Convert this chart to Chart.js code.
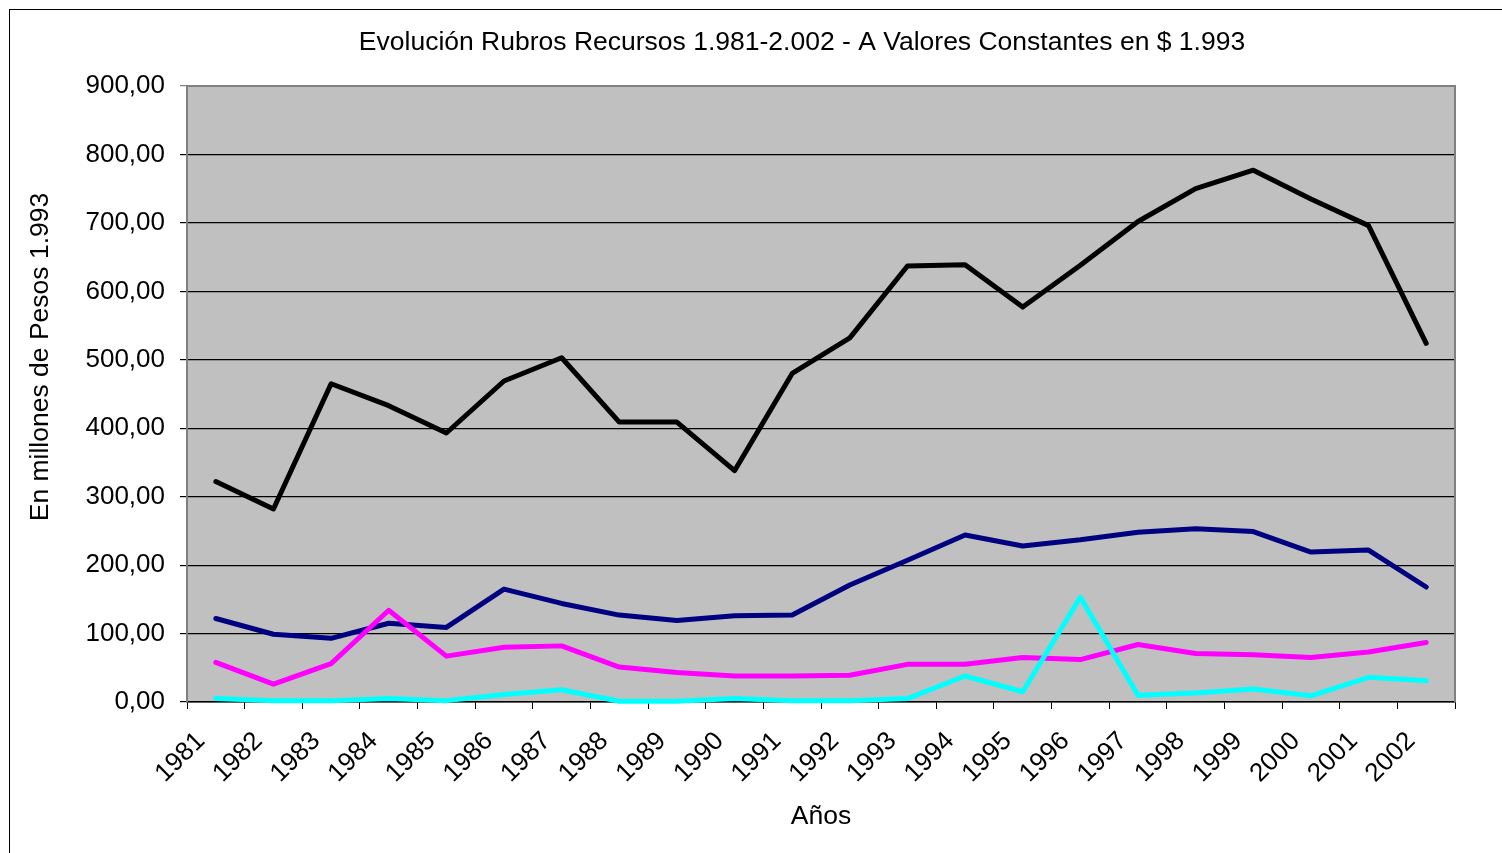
<!DOCTYPE html>
<html>
<head>
<meta charset="utf-8">
<script src="https://cdn.jsdelivr.net/npm/chart.js@4"></script>
<style>
  body { margin: 0; background: #fff; }
</style>
</head>
<body>
<canvas id="myChart" width="1502" height="853"></canvas>
<script>
// data (millones de $ 1.993)
const years = ["1981", "1982", "1983", "1984", "1985", "1986", "1987", "1988", "1989", "1990", "1991",
  "1992", "1993", "1994", "1995", "1996", "1997", "1998", "1999", "2000", "2001", "2002"];
const totalRecursos = [322, 282, 465, 433, 393, 469, 503, 409, 409, 338, 480, 532, 637, 639, 577, 638, 702, 750, 777, 735, 696, 524];
const serieAzul = [122, 99, 93, 115, 109, 165, 144, 127, 119, 126, 127, 171, 207, 244, 228, 237, 248, 253, 249, 219, 222, 168];
const serieMagenta = [58, 26, 56, 134, 67, 80, 82, 51, 43, 38, 38, 39, 55, 55, 65, 62, 84, 71, 69, 65, 73, 87];
const serieCian = [5, 2, 2, 5, 2, 11, 18, 1, 1, 5, 2, 2, 5, 38, 15, 153, 10, 13, 19, 9, 36, 31];

const FONT = "'Liberation Sans', Arial, sans-serif";
const TITLE = 'Evolución Rubros Recursos 1.981-2.002 - A Valores Constantes en $ 1.993';
const Y_TITLE = 'En millones de Pesos 1.993';

// white page, outer frame, grey plot area and the two titles
const frame = {
  id: 'frame',
  beforeDraw(chart) {
    const c = chart.ctx;
    const a = chart.chartArea;
    c.save();
    c.fillStyle = '#fff';
    c.fillRect(0, 0, chart.width, chart.height);
    c.strokeStyle = '#000';
    c.lineWidth = 1;
    c.strokeRect(9.5, 9.5, chart.width + 50, chart.height + 50);
    c.fillStyle = '#c0c0c0';
    c.fillRect(a.left, a.top, a.right - a.left, a.bottom - a.top);

    c.fillStyle = '#000';
    c.font = '26.5px ' + FONT;
    c.textAlign = 'center';
    c.textBaseline = 'middle';
    c.fillText(TITLE, 802, 43);

    c.translate(41, 357);
    c.rotate(-Math.PI / 2);
    c.fillText(Y_TITLE, 0, 0);
    c.restore();
  },
  afterDatasetsDraw(chart) {
    const c = chart.ctx;
    const a = chart.chartArea;
    c.save();
    c.strokeStyle = '#808080';
    c.lineWidth = 2;
    c.beginPath();
    c.moveTo(a.left, a.bottom);
    c.lineTo(a.left, a.top);
    c.lineTo(a.right, a.top);
    c.lineTo(a.right, a.bottom);
    c.stroke();
    c.restore();
  }
};

function line(label, data, color, order) {
  return {
    label: label,
    data: data,
    borderColor: color,
    backgroundColor: color,
    borderWidth: 5,
    pointRadius: 0,
    tension: 0,
    borderJoinStyle: 'round',
    borderCapStyle: 'round',
    clip: 4,
    order: order
  };
}

let config = {
  type: 'line',
  data: {
    labels: years,
    datasets: [
      line('Total Recursos', totalRecursos, '#000000', 4),
      line('Serie 2', serieAzul, '#000080', 3),
      line('Serie 3', serieMagenta, '#ff00ff', 2),
      line('Serie 4', serieCian, '#00ffff', 1)
    ]
  },
  options: {
    responsive: false,
    animation: false,
    layout: { padding: { left: 0, right: 47, top: 86, bottom: 0 } },
    plugins: {
      legend: { display: false },
      tooltip: { enabled: false },
      title: { display: false }
    },
    scales: {
      x: {
        offset: true,
        grid: {
          offset: true,
          drawOnChartArea: false,
          drawTicks: true,
          tickLength: 7,
          color: '#000'
        },
        border: { color: '#000', width: 1.5 },
        ticks: {
          autoSkip: false,
          minRotation: 45,
          maxRotation: 45,
          color: '#000',
          padding: 17,
          labelOffset: -15,
          font: { family: FONT, size: 26 }
        },
        title: {
          display: true,
          text: 'Años',
          color: '#000',
          font: { family: FONT, size: 26.5, lineHeight: 1.2 },
          padding: { top: 0, bottom: 20 }
        },
        afterFit(scale) { scale.height = 151; }
      },
      y: {
        min: 0,
        max: 900,
        ticks: {
          stepSize: 100,
          color: '#000',
          padding: 15,
          font: { family: FONT, size: 26 },
          callback: (v) => v.toFixed(2).replace('.', ',')
        },
        grid: {
          color: (ctx) => (ctx.tick && ctx.tick.value === 900 ? '#808080' : '#000'),
          lineWidth: 1.2,
          drawTicks: true,
          tickLength: 7
        },
        border: { color: '#808080', width: 2 },
        afterFit(scale) { scale.width = 187; }
      }
    }
  },
  plugins: [frame]
};

let ctx = document.getElementById('myChart');
let myChart = new Chart(ctx, config);
</script>
</body>
</html>
